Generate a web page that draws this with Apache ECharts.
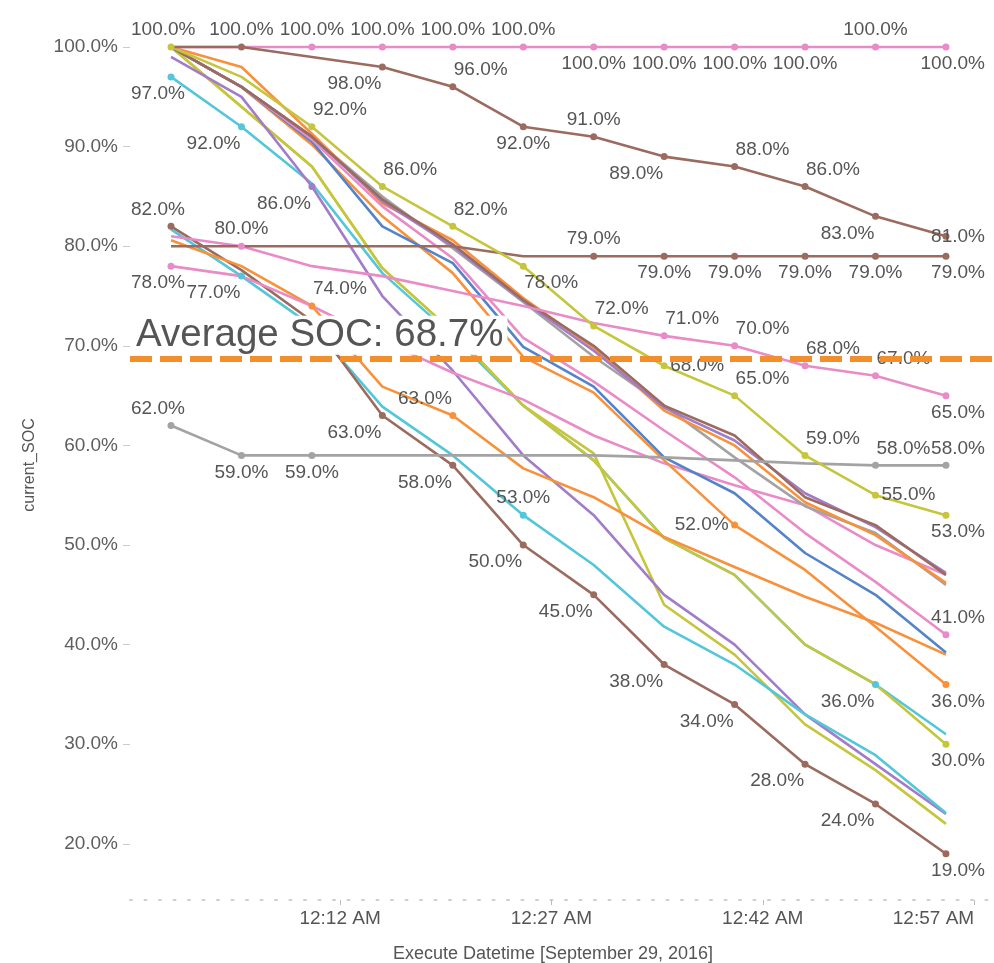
<!DOCTYPE html>
<html>
<head>
<meta charset="utf-8">
<script src="https://cdn.jsdelivr.net/npm/echarts@6/dist/echarts.min.js"></script>
<style>
  html, body { margin: 0; padding: 0; background: #fff; }
  #chart { width: 994px; height: 963px; }
</style>
</head>
<body>
<div id="chart"></div>
<script>
// minutes after 12:00 AM, one sample every 5 minutes
var timeMinutes = [0, 5, 10, 15, 20, 25, 30, 35, 40, 45, 50, 55];
var tickMinutes = [12, 27, 42, 57];
var tickLabels = ['12:12 AM', '12:27 AM', '12:42 AM', '12:57 AM'];
var socTicks = [20, 30, 40, 50, 60, 70, 80, 90, 100];
var avgSOC = 68.7;

// current_SOC per vehicle (%)
var socPinkTop   = [100, 100, 100, 100, 100, 100, 100, 100, 100, 100, 100, 100];
var socBrownTop  = [100, 100, 99, 98, 96, 92, 91, 89, 88, 86, 83, 81];
var socBrownFlat = [80, 80, 80, 80, 80, 79, 79, 79, 79, 79, 79, 79];
var socPinkA     = [81, 80, 78, 77, 75.5, 74, 72.3, 71, 70, 68, 67, 65];
var socPinkB     = [78, 77, 74, 70.5, 67.3, 64.6, 61, 58.2, 56, 54, 50, 47];
var socGrayLow   = [62, 59, 59, 59, 59, 59, 59, 58.8, 58.5, 58.2, 58, 58];
var socOliveA    = [100, 97, 92, 86, 82, 78, 72, 68, 65, 59, 55, 53];
var socBrownLow  = [82, 77.6, 72.5, 63, 58, 50, 45, 38, 34, 28, 24, 19];
var socCyanA     = [81.7, 77, 72, 63.9, 59, 53, 48, 41.8, 38, 33, 28.9, 23.1];
var socOrangeA   = [80.6, 78, 74, 65.9, 63, 57.7, 54.8, 50.8, 47.8, 44.8, 42.2, 39];
var socPurpleA   = [99, 95, 86, 75, 67.5, 59, 53, 45, 40, 33, 28, 23];
var socOliveB    = [100, 94, 88, 77.8, 71.4, 64, 58.5, 50.7, 47, 40, 36, 30];
var socOliveC    = [100, 94, 88, 77.8, 71.4, 64, 59.2, 44, 39, 32, 27.4, 22];
var socCyanB     = [97, 92, 86.3, 77.3, 71, 64, 58.5, 50.7, 47, 40, 36, 31];
var socOrangeB   = [100, 98, 91.3, 84.3, 80.6, 74.8, 69.8, 63.5, 60, 54.3, 51, 46.2];
var socGrayHigh  = [100, 96, 91, 85, 79.8, 74.4, 68.9, 64, 58.8, 53.9, 51.2, 46];
var socBrownMid  = [100, 96, 91, 84.7, 80.2, 74.6, 70, 64, 61, 54.8, 52, 47];
var socPurpleB   = [100, 96, 91, 84.5, 80, 74.5, 69.5, 63.8, 60.5, 55.2, 51.8, 47.2];
var socPinkC     = [100, 96, 90.7, 84, 78.8, 70.8, 66.4, 61.5, 56.8, 51.2, 46.3, 41];
var socBlue      = [100, 96, 90.5, 82, 78.3, 69.9, 65.9, 58.8, 55.2, 49.2, 45, 39.2];
var socOrangeC   = [100, 96, 90.2, 83, 77.3, 68.9, 65.3, 58.5, 52, 47.5, 41.8, 36];

var PINK = '#e88bc6', BROWN = '#9c6b5f', GRAY = '#a3a3a3', OLIVE = '#c5c63e',
    CYAN = '#53c6d9', ORANGE = '#f8913b', BLUE = '#5583c9', PURPLE = '#a27cc9';

// drawing order: first is at the bottom
var lines = [
  {data: socCyanB, color: CYAN, marks: [[0, 'B'], [1, 'BL'], [10, 'BL']]},
  {data: socOliveC, color: OLIVE, marks: []},
  {data: socOliveB, color: OLIVE, marks: [[11, 'B']]},
  {data: socPurpleA, color: PURPLE, marks: [[2, 'BL']]},
  {data: socCyanA, color: CYAN, marks: [[1, 'BL'], [5, 'T']]},
  {data: socBrownLow, color: BROWN, marks: [[0, 'T'], [3, 'BL'], [4, 'BL'], [5, 'BL'], [6, 'BL'], [7, 'BL'], [8, 'BL'], [9, 'BL'], [10, 'BL'], [11, 'B']]},
  {data: socOrangeA, color: ORANGE, marks: [[2, 'TR'], [4, 'TL']]},
  {data: socPinkB, color: PINK, marks: [[0, 'B']]},
  {data: socOrangeC, color: ORANGE, marks: [[8, 'L'], [11, 'B']]},
  {data: socBlue, color: BLUE, marks: []},
  {data: socPinkC, color: PINK, marks: [[11, 'T']]},
  {data: socGrayHigh, color: GRAY, marks: []},
  {data: socOrangeB, color: ORANGE, marks: []},
  {data: socPurpleB, color: PURPLE, marks: []},
  {data: socBrownMid, color: BROWN, marks: []},
  {data: socGrayLow, color: GRAY, marks: [[0, 'T'], [1, 'B'], [2, 'B'], [10, 'TR'], [11, 'T']]},
  {data: socPinkA, color: PINK, marks: [[1, 'T'], [7, 'TR'], [8, 'TR'], [9, 'TR'], [10, 'TR'], [11, 'B']]},
  {data: socBrownFlat, color: BROWN, marks: [[6, 'T'], [7, 'B'], [8, 'B'], [9, 'B'], [10, 'B'], [11, 'B']]},
  {data: socOliveA, color: OLIVE, marks: [[0, 'T'], [2, 'TR'], [3, 'TR'], [4, 'TR'], [5, 'BR'], [6, 'TR'], [7, 'R'], [8, 'TR'], [9, 'TR'], [10, 'R'], [11, 'B']]},
  {data: socPinkTop, color: PINK, marks: [[2, 'T'], [3, 'T'], [4, 'T'], [5, 'T'], [6, 'B'], [7, 'B'], [8, 'B'], [9, 'B'], [10, 'T'], [11, 'B']]},
  {data: socBrownTop, color: BROWN, marks: [[1, 'T'], [3, 'BL'], [4, 'TR'], [5, 'B'], [6, 'T'], [7, 'BL'], [8, 'TR'], [9, 'TR'], [10, 'BL'], [11, 'E']]}
];

var FONT = '"Liberation Sans", Arial, sans-serif';
// [align, dx, dy] around the point
var spots = {
  T: ['center', 0, -17], B: ['center', 0, 17],
  TR: ['left', 1, -17], TL: ['right', -1, -17],
  BR: ['left', 1, 17], BL: ['right', -1, 17],
  R: ['left', 6, 0], L: ['right', -6, 0], E: ['right', 39, 0]
};

var pctText = function (v) { return v.toFixed(1) + '%'; };

var makeLabel = function (code, idx) {
  var s = spots[code];
  var align = s[0], dx = s[1];
  // Tableau keeps the end labels inside the pane
  if (align === 'center' && idx === 0) { align = 'left'; dx = -40; }
  if (align === 'center' && idx === timeMinutes.length - 1) { align = 'right'; dx = 39; }
  return {
    show: true, position: 'inside', align: align, verticalAlign: 'middle',
    offset: [dx, s[2]], color: '#555', fontSize: 19, fontFamily: FONT,
    formatter: function (p) { return pctText(p.value[1]); }
  };
};

var series = lines.map(function (ln) {
  var marked = {};
  ln.marks.forEach(function (m) { marked[m[0]] = m[1]; });
  var pts = ln.data.map(function (v, i) {
    if (marked[i]) {
      return {value: [timeMinutes[i], v], symbolSize: 7, label: makeLabel(marked[i], i)};
    }
    return {value: [timeMinutes[i], v], symbolSize: 0};
  });
  return {
    type: 'line', data: pts, symbol: 'circle', showSymbol: true,
    lineStyle: {color: ln.color, width: 2.6},
    itemStyle: {color: ln.color},
    silent: true, z: 2
  };
});

// average line with its annotation on top of everything
series.push({
  type: 'line', data: [], z: 10, silent: true,
  markLine: {
    symbol: 'none', silent: true, animation: false,
    data: [{yAxis: avgSOC}],
    lineStyle: {color: '#f28e2b', width: 6, type: [22, 8]},
    label: {
      show: true, position: 'insideStartTop', distance: 4,
      formatter: 'Average SOC: ' + pctText(avgSOC),
      fontSize: 38.5, fontFamily: FONT, color: '#555',
      backgroundColor: '#fff', padding: [0, 4, 0, 2]
    }
  }
});

var chart = echarts.init(document.getElementById('chart'));
chart.setOption({
  animation: false,
  grid: {left: 130, right: 0, top: 30, bottom: 63, outerBoundsMode: 'none', containLabel: false},
  xAxis: {
    type: 'value', min: -2.91, max: 58.41,
    name: 'Execute Datetime [September 29, 2016]',
    nameLocation: 'middle', nameGap: 45,
    nameTextStyle: {color: '#555', fontSize: 18, fontFamily: FONT, padding: [0, 18, 0, 0]},
    splitLine: {show: false},
    axisLine: {show: true, onZero: false, lineStyle: {color: '#cfcfcf', width: 2, type: [2, 12.5]}},
    axisTick: {show: true, customValues: tickMinutes, length: 5, lineStyle: {color: '#bbb'}},
    axisLabel: {
      customValues: tickMinutes, margin: 9, color: '#555', fontSize: 19, fontFamily: FONT,
      alignMaxLabel: 'right',
      formatter: function (v) { return tickLabels[tickMinutes.indexOf(v)]; }
    }
  },
  yAxis: {
    type: 'value', min: 14.36, max: 101.71,
    name: 'current_SOC', nameLocation: 'middle', nameGap: 92, nameRotate: 90,
    nameTextStyle: {color: '#555', fontSize: 16, fontFamily: FONT},
    splitLine: {show: false},
    axisLine: {show: false, onZero: false},
    axisTick: {show: true, customValues: socTicks, length: 7, lineStyle: {color: '#ccc'}},
    axisLabel: {
      customValues: socTicks, margin: 12, color: '#5e5e5e', fontSize: 19, fontFamily: FONT,
      formatter: function (v) { return pctText(v); }
    }
  },
  series: series
});
</script>
</body>
</html>
